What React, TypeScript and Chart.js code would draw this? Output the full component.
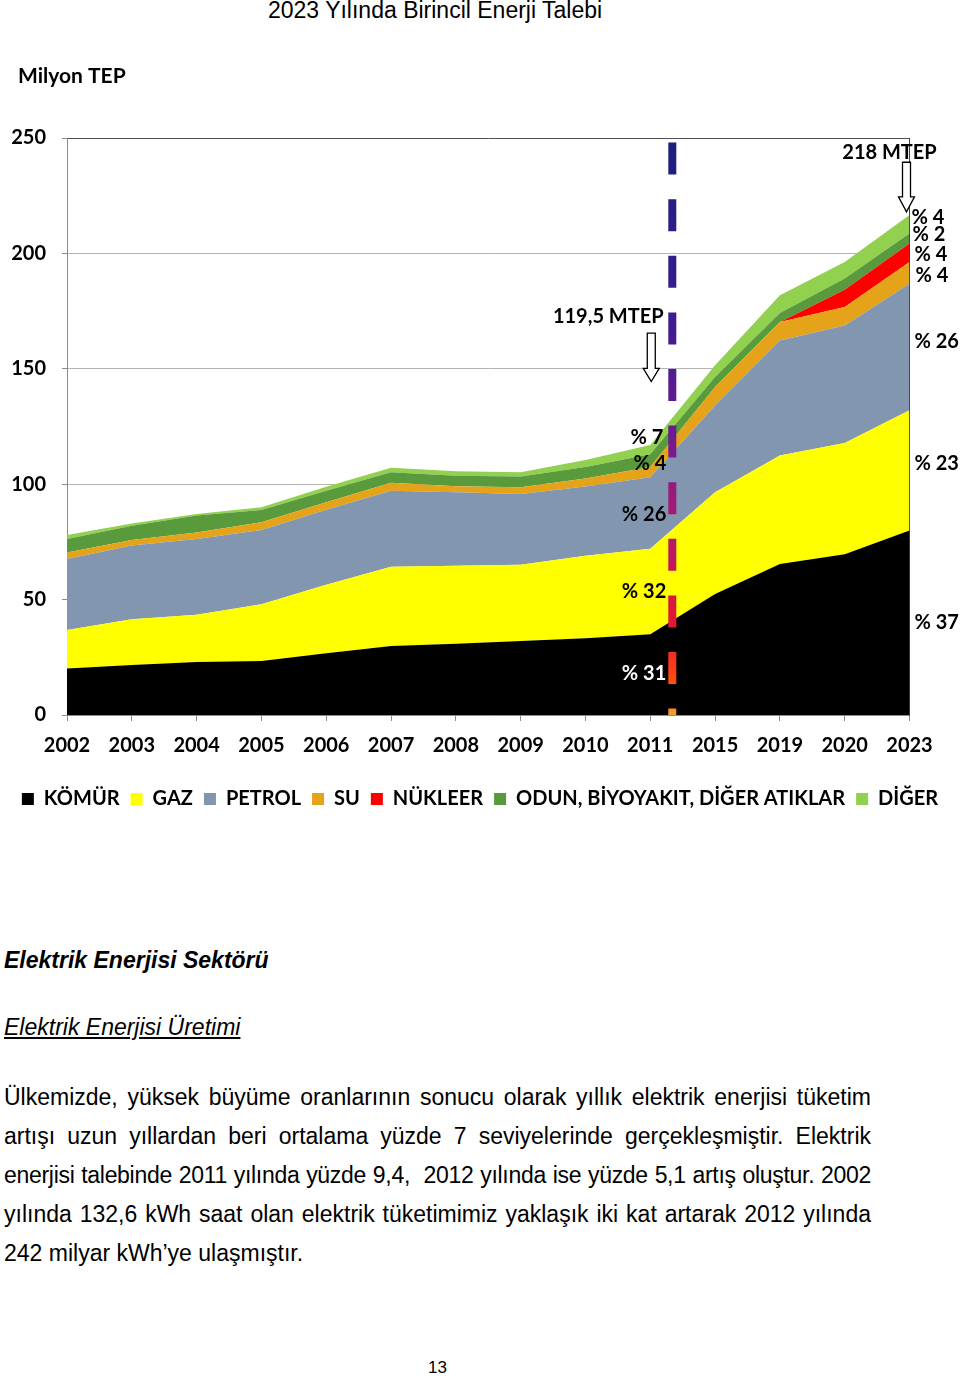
import React, { useEffect, useRef } from 'react';
import { Chart, registerables } from 'chart.js';

Chart.register(...registerables);

// ---------- data ----------
const years = ['2002', '2003', '2004', '2005', '2006', '2007', '2008', '2009', '2010', '2011', '2015', '2019', '2020', '2023'];
const komur = [20.1, 21.7, 23.0, 23.4, 26.8, 29.9, 30.9, 32.1, 33.3, 35.0, 52.4, 65.4, 69.7, 79.9];
const gaz = [16.7, 19.8, 20.4, 24.6, 29.6, 34.3, 33.8, 33.0, 35.7, 37.0, 44.1, 47.0, 48.1, 52.1];
const petrol = [30.8, 31.9, 32.9, 32.2, 32.5, 33.0, 31.8, 30.7, 30.0, 31.0, 37.6, 49.9, 51.0, 54.9];
const su = [2.8, 2.4, 2.8, 3.3, 3.3, 3.4, 2.6, 2.9, 3.5, 4.5, 8.0, 8.0, 8.0, 9.4];
const nukleer = [0, 0, 0, 0, 0, 0, 0, 0, 0, 0, 0, 0, 7.5, 8.0];
const odun = [5.9, 6.2, 7.3, 5.3, 5.0, 4.6, 4.6, 4.6, 5.0, 5.5, 4.3, 3.9, 4.8, 4.3];
const diger = [1.7, 1.0, 0.7, 1.2, 1.7, 1.9, 1.9, 1.9, 3.0, 4.0, 5.1, 7.7, 7.2, 8.0];

const seriesNames = ['KÖMÜR', 'GAZ', 'PETROL', 'SU', 'NÜKLEER', 'ODUN, BİYOYAKIT, DİĞER ATIKLAR', 'DİĞER'];
const seriesColors = ['#000000', '#FFFF00', '#8396B0', '#E5A31A', '#FF0000', '#589A3C', '#92D050'];
const seriesData = [komur, gaz, petrol, su, nukleer, odun, diger];

const yTicks = [0, 50, 100, 150, 200, 250];

// annotation texts (value = y in Milyon TEP, at category index)
const totalLabels = [
  { text: '218 MTEP', index: 13, dx: -20, value: 243.5 },
  { text: '119,5 MTEP', index: 9, dx: -42, value: 172.5 },
];
const arrows = [
  { index: 13, dx: -3, top: 239.5, headBase: 224.5, tip: 218 },
  { index: 9, dx: 1, top: 165.5, headBase: 150.2, tip: 144.5 },
];
const rightPct = [
  { text: '% 4', value: 215.5, dx: 2 },
  { text: '% 2', value: 208.3, dx: 3 },
  { text: '% 4', value: 199.6, dx: 5 },
  { text: '% 4', value: 190.2, dx: 6 },
  { text: '% 26', value: 162.0, dx: 5 },
  { text: '% 23', value: 108.9, dx: 5 },
  { text: '% 37', value: 40.0, dx: 5 },
];
const leftPct = [
  { text: '% 7', value: 120.0, dx: 13, color: '#000' },
  { text: '% 4', value: 108.9, dx: 16, color: '#000' },
  { text: '% 26', value: 86.8, dx: 16, color: '#000' },
  { text: '% 32', value: 53.6, dx: 16, color: '#000' },
  { text: '% 31', value: 18.0, dx: 16, color: '#fff' },
];
const dividerPos = 9.34; // between 2011 and 2015
const dividerTop = 248;

const paragraphLines = [
  'Ülkemizde, yüksek büyüme oranlarının sonucu olarak yıllık elektrik enerjisi tüketim',
  'artışı uzun yıllardan beri ortalama yüzde 7 seviyelerinde gerçekleşmiştir. Elektrik',
  'enerjisi talebinde 2011 yılında yüzde 9,4,\u00a0 2012 yılında ise yüzde 5,1 artış oluştur. 2002',
  'yılında 132,6 kWh saat olan elektrik tüketimimiz yaklaşık iki kat artarak 2012 yılında',
  '242 milyar kWh’ye ulaşmıştır.',
];

const LABEL_FONT = 'bold 20px Lato';

const annotPlugin = {
  id: 'annot',
  afterDatasetsDraw(chart: any) {
    const { ctx, chartArea, scales } = chart;
    const x = scales.x;
    const y = scales.y;
    ctx.save();

    // dashed gradient divider
    const step = x.getPixelForValue(1) - x.getPixelForValue(0);
    const dxPix = x.getPixelForValue(Math.floor(dividerPos)) + (dividerPos - Math.floor(dividerPos)) * step;
    const top = y.getPixelForValue(dividerTop);
    const bottom = chartArea.bottom;
    const grad = ctx.createLinearGradient(0, top, 0, bottom);
    grad.addColorStop(0, '#1b1f7e');
    grad.addColorStop(0.3, '#3a1c8e');
    grad.addColorStop(0.5, '#6a1a92');
    grad.addColorStop(0.62, '#9c1a7c');
    grad.addColorStop(0.74, '#c4185a');
    grad.addColorStop(0.85, '#e6182e');
    grad.addColorStop(0.94, '#ff4a12');
    grad.addColorStop(1, '#f2a12a');
    ctx.strokeStyle = grad;
    ctx.lineWidth = 8;
    ctx.lineCap = 'butt';
    ctx.setLineDash([32, 24.6]);
    ctx.beginPath();
    ctx.moveTo(dxPix, top);
    ctx.lineTo(dxPix, bottom);
    ctx.stroke();
    ctx.setLineDash([]);

    // arrows
    arrows.forEach((a) => {
      const cx = x.getPixelForValue(a.index) + a.dx;
      const yt = y.getPixelForValue(a.top);
      const yh = y.getPixelForValue(a.headBase);
      const yp = y.getPixelForValue(a.tip);
      ctx.beginPath();
      ctx.moveTo(cx - 4, yt);
      ctx.lineTo(cx + 4, yt);
      ctx.lineTo(cx + 4, yh);
      ctx.lineTo(cx + 8, yh);
      ctx.lineTo(cx, yp);
      ctx.lineTo(cx - 8, yh);
      ctx.lineTo(cx - 4, yh);
      ctx.closePath();
      ctx.fillStyle = '#fff';
      ctx.fill();
      ctx.strokeStyle = '#000';
      ctx.lineWidth = 1.3;
      ctx.stroke();
    });

    ctx.font = LABEL_FONT;
    ctx.textBaseline = 'middle';

    // total labels
    ctx.fillStyle = '#000';
    ctx.textAlign = 'center';
    totalLabels.forEach((l) => {
      ctx.fillText(l.text, x.getPixelForValue(l.index) + l.dx, y.getPixelForValue(l.value));
    });

    // right percentages (2023)
    ctx.textAlign = 'left';
    const xr = x.getPixelForValue(years.length - 1);
    rightPct.forEach((l) => {
      ctx.fillText(l.text, xr + l.dx, y.getPixelForValue(l.value));
    });

    // left percentages (2011)
    ctx.textAlign = 'right';
    const x11 = x.getPixelForValue(9);
    leftPct.forEach((l) => {
      ctx.fillStyle = l.color;
      ctx.fillText(l.text, x11 + l.dx, y.getPixelForValue(l.value));
    });

    // unit label
    ctx.fillStyle = '#000';
    ctx.textAlign = 'left';
    ctx.font = 'bold 21px Lato';
    ctx.fillText('Milyon TEP', 18, 76);

    ctx.restore();
  },
};

export default function App() {
  const canvasRef = useRef<HTMLCanvasElement | null>(null);

  useEffect(() => {
    document.body.style.margin = '0';
    const canvas = canvasRef.current;
    if (!canvas) return;
    const chart = new Chart(canvas, {
      type: 'line',
      data: {
        labels: years,
        datasets: seriesData.map((d, i) => ({
          label: seriesNames[i],
          data: d,
          backgroundColor: seriesColors[i],
          borderColor: 'rgba(0,0,0,0)',
          borderWidth: 0,
          pointRadius: 0,
          pointHoverRadius: 0,
          tension: 0,
          fill: i === 0 ? 'origin' : '-1',
        })),
      },
      options: {
        responsive: false,
        animation: false,
        devicePixelRatio: 1,
        events: [],
        layout: { padding: { top: 138, left: 0, right: 0, bottom: 12 } },
        plugins: {
          title: { display: false },
          tooltip: { enabled: false },
          legend: {
            display: true,
            position: 'bottom',
            labels: {
              font: { family: 'Lato', size: 20, weight: 'bold' },
              color: '#000',
              boxWidth: 12,
              boxHeight: 12,
              padding: 11,
            },
          },
        },
        scales: {
          x: {
            type: 'category',
            offset: false,
            grid: { display: true, drawOnChartArea: false, drawTicks: true, tickLength: 6, color: '#8c8c8c' },
            border: { display: true, color: '#8c8c8c', width: 1 },
            ticks: {
              autoSkip: false,
              maxRotation: 0,
              minRotation: 0,
              padding: 13,
              color: '#000',
              font: { family: 'Lato', size: 20, weight: 'bold' },
            },
            afterFit: (s: any) => { s.height = 63; },
          },
          y: {
            stacked: true,
            min: 0,
            max: 250,
            afterBuildTicks: (s: any) => { s.ticks = yTicks.map((v) => ({ value: v })); },
            grid: {
              color: (c: any) => (c.tick && c.tick.value === 250 ? '#505050' : '#b4b4b4'),
              tickColor: '#8c8c8c',
              tickLength: 5,
              drawTicks: true,
            },
            border: { display: true, color: '#8c8c8c', width: 1 },
            ticks: {
              padding: 16,
              color: '#000',
              font: { family: 'Lato', size: 20, weight: 'bold' },
            },
            afterFit: (s: any) => { s.width = 67; },
          },
          yr: {
            position: 'right',
            min: 0,
            max: 250,
            grid: { display: false, drawOnChartArea: false },
            ticks: { display: false },
            border: { display: true, color: '#404040', width: 1 },
            afterFit: (s: any) => { s.width = 50.5; },
          },
        },
      } as any,
      plugins: [annotPlugin],
    });
    return () => chart.destroy();
  }, []);

  const bodyFont = '"Liberation Sans", Arial, sans-serif';

  return (
    <div style={{ position: 'relative', width: 960, height: 1376, overflow: 'hidden', background: '#fff', color: '#000' }}>
      <div style={{ position: 'absolute', left: 268, top: -1, fontFamily: bodyFont, fontSize: 23, lineHeight: '23px', whiteSpace: 'nowrap' }}>
        2023 Yılında Birincil Enerji Talebi
      </div>
      <canvas ref={canvasRef} width={960} height={831} style={{ position: 'absolute', left: 0, top: 0 }} />
      <div style={{ position: 'absolute', left: 4, top: 948.5, fontFamily: bodyFont, fontSize: 23, lineHeight: '23px', fontWeight: 'bold', fontStyle: 'italic', whiteSpace: 'nowrap' }}>
        Elektrik Enerjisi Sektörü
      </div>
      <div style={{ position: 'absolute', left: 4, top: 1015.5, fontFamily: bodyFont, fontSize: 23, lineHeight: '23px', fontStyle: 'italic', textDecoration: 'underline', whiteSpace: 'nowrap' }}>
        Elektrik Enerjisi Üretimi
      </div>
      {paragraphLines.map((line, i) => {
        const last = i === paragraphLines.length - 1;
        return (
          <div
            key={i}
            style={{
              position: 'absolute',
              left: 4,
              top: 1085.5 + i * 39.2,
              width: 867,
              fontFamily: bodyFont,
              fontSize: 23,
              lineHeight: '23px',
              textAlign: last ? 'left' : 'justify',
              textAlignLast: last ? 'left' : 'justify',
              letterSpacing: i === 2 ? '-0.3px' : 'normal',
              whiteSpace: last ? 'nowrap' : 'normal',
            } as any}
          >
            {line}
          </div>
        );
      })}
      <div style={{ position: 'absolute', left: 428, top: 1358.5, fontFamily: bodyFont, fontSize: 17, lineHeight: '17px' }}>13</div>
    </div>
  );
}
